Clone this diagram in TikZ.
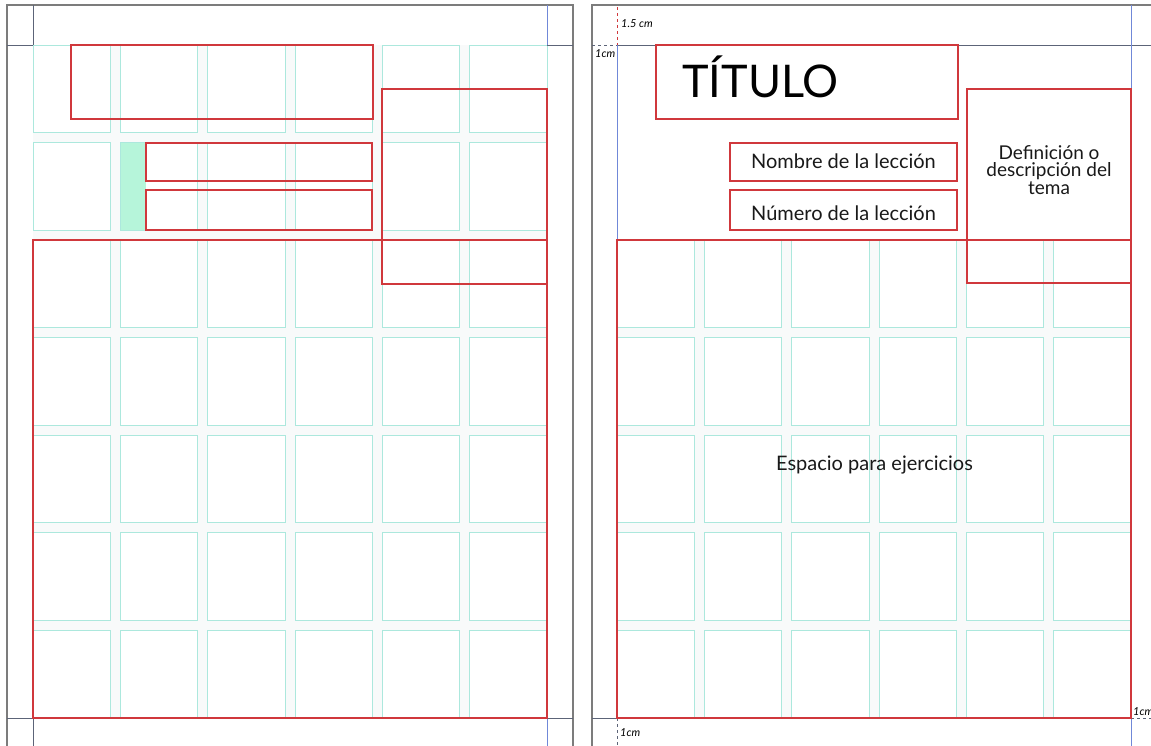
\documentclass[tikz,border=0pt]{standalone}
\usepackage{fontspec}
\setmainfont{Lato}
\definecolor{gridc}{HTML}{ACE8DD}
\definecolor{redc}{HTML}{D0383C}
\definecolor{guide}{HTML}{5C6478}
\definecolor{blueg}{HTML}{7088D8}
\definecolor{pageb}{HTML}{7C7C7C}
\definecolor{mint}{HTML}{B6F5DA}
\definecolor{gutter}{HTML}{F8FAFA}
\begin{document}
\begin{tikzpicture}[x=1pt,y=-1pt,
  cell/.style={draw=gridc, line width=0.9pt, fill=white},
  redbox/.style={draw=redc, line width=1.1pt, anchor=north west, inner sep=0pt, outer sep=0pt},
  guideline/.style={draw=guide, line width=0.8pt},
  blueline/.style={draw=blueg, line width=0.8pt},
  pageline/.style={draw=pageb, line width=1.6pt},
  dimlabel/.style={font=\itshape\fontsize{11}{11}\selectfont, inner sep=0pt, anchor=base west, text=black},
  boxtext/.style={font=\fontsize{20}{20}\selectfont, inner sep=0pt, anchor=base, text=black!90},
]
\useasboundingbox[fill=white] (0,0) rectangle (1151,745);
% ---------- grids ----------
\fill[gutter] (33,45) rectangle (547,718);
\foreach \i in {0,...,5} \foreach \j in {0,...,6} {
  \draw[cell] ({33+\i*87.33},{45+\j*97.57}) rectangle ++(77.33,87.57);
}
\fill[gutter] (617,240.1) rectangle (1131,718);
\foreach \i in {0,...,5} \foreach \j in {2,...,6} {
  \draw[cell] ({617+\i*87.33},{45+\j*97.57}) rectangle ++(77.33,87.57);
}
% ---------- pages ----------
\draw[pageline] (7,746) -- (7,5) -- (573,5) -- (573,746);
\draw[pageline] (592,746) -- (592,5) -- (1152,5);
% ---------- guides, left page ----------
\draw[guideline] (7,45) -- (33,45) (547,45) -- (573,45);
\draw[guideline] (7,718) -- (33,718) (547,718) -- (573,718);
\draw[guideline] (33,5) -- (33,45) (33,718) -- (33,746);
\draw[blueline] (547,5) -- (547,45) (547,718) -- (547,746);
% ---------- guides, right page ----------
\draw[guideline] (617,45) -- (1152,45);
\draw[guideline] (592,718) -- (617,718);
\draw[guideline, dashed] (592,45) -- (617,45);
\draw[draw=redc, line width=0.8pt, dashed] (617,7) -- (617,45);
\draw[blueline] (617,45) -- (617,240);
\draw[guideline, dashed] (617,718) -- (617,746);
\draw[blueline] (1131,5) -- (1131,89) (1131,718) -- (1131,746);
\draw[guideline, dashed] (1131,718) -- (1152,718);
% ---------- left page boxes ----------
\node[fill=mint, anchor=north west, minimum width=25.7pt, minimum height=87.5pt, inner sep=0pt] (bar) at (120.3,142.6) {};
\node[redbox, minimum width=302pt, minimum height=74pt] (lt) at (71,45) {};
\node[redbox, minimum width=226pt, minimum height=38pt] (ln) at (146,143) {};
\node[redbox, minimum width=226pt, minimum height=40pt] (lnum) at (146,190) {};
\node[redbox, minimum width=514pt, minimum height=478pt] (le) at (33,240) {};
\node[redbox, minimum width=165pt, minimum height=195pt] (ld) at (382,89) {};
% ---------- right page boxes ----------
\node[redbox, minimum width=302pt, minimum height=74pt] (rt) at (656,45) {};
\node[redbox, minimum width=227pt, minimum height=38pt] (rn) at (730,143) {};
\node[redbox, minimum width=227pt, minimum height=40pt] (rnum) at (730,190) {};
\node[redbox, minimum width=514pt, minimum height=478pt] (re) at (617,240) {};
\node[redbox, minimum width=164pt, minimum height=194pt] (rd) at (967,89) {};
% ---------- texts ----------
\node[inner sep=0pt, anchor=base, font=\fontsize{45}{45}\selectfont] (titulo) at (760.5,97) {TÍTULO};
\node[boxtext] (nombre) at (843.5,168) {Nombre de la lección};
\node[boxtext] (numero) at (843.5,220) {Número de la lección};
\node[inner sep=0pt, align=center, anchor=center, font=\fontsize{19}{17.5}\selectfont, text=black!90] (defin) at (1049,170) {Definición o\\descripción del\\tema};
\node[boxtext] (espacio) at (874.5,470) {Espacio para ejercicios};
% ---------- dimension labels ----------
\node[dimlabel] (d15) at (621,27) {1.5 cm};
\node[dimlabel] (d1a) at (595,57) {1cm};
\node[dimlabel] (d1b) at (620,736) {1cm};
\node[dimlabel] (d1c) at (1133,715) {1cm};
\end{tikzpicture}
\end{document}
